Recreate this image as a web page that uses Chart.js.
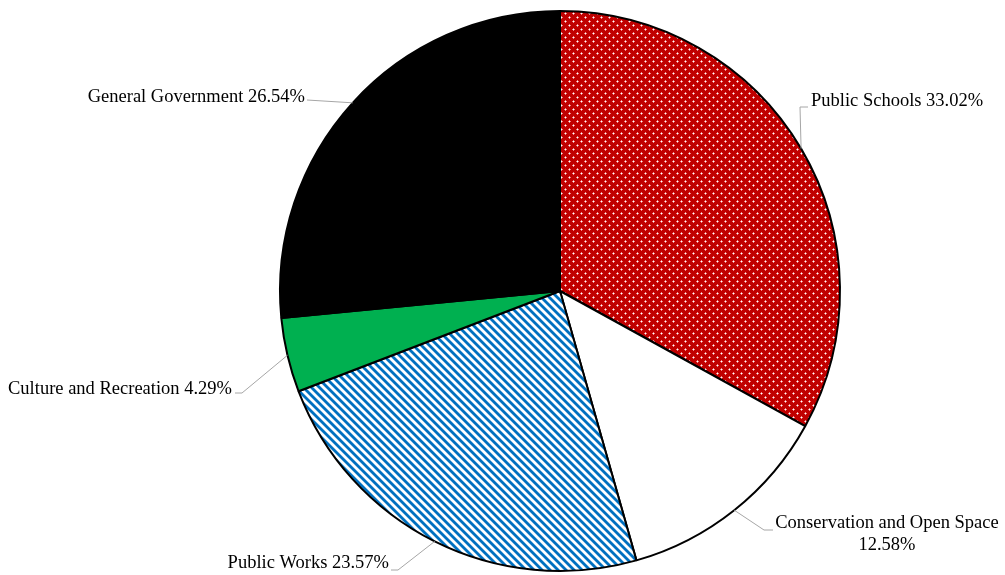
<!DOCTYPE html>
<html>
<head>
<meta charset="utf-8">
<script src="https://cdn.jsdelivr.net/npm/chart.js@4.4.1/dist/chart.umd.min.js"></script>
<style>
  html, body { margin: 0; padding: 0; background: #fff; }
</style>
</head>
<body>
<canvas id="budgetPie" width="1005" height="575"></canvas>
<script>
// dane wykresu
const categories = ["Public Schools", "Conservation and Open Space", "Public Works", "Culture and Recreation", "General Government"];
const shares = [33.02, 12.58, 23.57, 4.29, 26.54];

// rozmieszczenie etykiet (tekst + zalamanie linii odniesienia)
const labelLayout = [
    { lines: ["Public Schools 33.02%"], x: 811, y: 101, align: "left", elbow: [800, 107], end: [808, 107] },
    { lines: ["Conservation and Open Space", "12.58%"], x: 887, y: 523, align: "center", elbow: [764, 530], end: [773, 530] },
    { lines: ["Public Works 23.57%"], x: 389, y: 563, align: "right", elbow: [398, 570], end: [391, 570] },
    { lines: ["Culture and Recreation 4.29%"], x: 232, y: 389, align: "right", elbow: [242, 393], end: [235, 393] },
    { lines: ["General Government 26.54%"], x: 305, y: 97, align: "right", elbow: [307, 100], end: [307, 100] }
];

function dotPattern() {
    const c = document.createElement("canvas");
    c.width = 8; c.height = 8;
    const g = c.getContext("2d");
    g.fillStyle = "#C00000";
    g.fillRect(0, 0, 8, 8);
    g.fillStyle = "rgba(255,190,190,0.7)";
    g.fillRect(1, 0, 1, 3);
    g.fillRect(0, 1, 3, 1);
    g.fillRect(5, 4, 1, 3);
    g.fillRect(4, 5, 3, 1);
    g.fillStyle = "#ffffff";
    g.fillRect(1, 1, 1, 1);
    g.fillRect(5, 5, 1, 1);
    return g.createPattern(c, "repeat");
}

function stripePattern() {
    const c = document.createElement("canvas");
    c.width = 8; c.height = 8;
    const g = c.getContext("2d");
    g.fillStyle = "#0070C0";
    g.fillRect(0, 0, 8, 8);
    g.strokeStyle = "#ffffff";
    g.lineWidth = 2.8;
    for (let k = -1; k <= 1; k++) {
        g.beginPath();
        g.moveTo(k * 8 - 2, -2);
        g.lineTo(k * 8 + 10, 10);
        g.stroke();
    }
    return g.createPattern(c, "repeat");
}

const leaderLabels = {
    id: "leaderLabels",
    afterDatasetsDraw(chart) {
        const ctx = chart.ctx;
        const arcs = chart.getDatasetMeta(0).data;
        ctx.save();
        arcs.forEach((arc, i) => {
            const p = arc.getProps(["x", "y", "startAngle", "endAngle", "outerRadius"], true);
            const mid = (p.startAngle + p.endAngle) / 2;
            const ax = p.x + Math.cos(mid) * p.outerRadius;
            const ay = p.y + Math.sin(mid) * p.outerRadius;
            const l = labelLayout[i];

            ctx.strokeStyle = "#A6A6A6";
            ctx.lineWidth = 1;
            ctx.beginPath();
            ctx.moveTo(ax, ay);
            ctx.lineTo(l.elbow[0], l.elbow[1]);
            ctx.lineTo(l.end[0], l.end[1]);
            ctx.stroke();

            ctx.fillStyle = "#000";
            ctx.font = "18.5px 'Liberation Serif', 'Times New Roman', serif";
            ctx.textAlign = l.align;
            ctx.textBaseline = "middle";
            l.lines.forEach((txt, j) => {
                ctx.fillText(txt, l.x, l.y + j * 22);
            });
        });
        ctx.restore();
    }
};

new Chart(document.getElementById("budgetPie").getContext("2d"), {
    type: "pie",
    data: {
        labels: categories,
        datasets: [{
            data: shares,
            backgroundColor: [dotPattern(), "#ffffff", stripePattern(), "#00B050", "#000000"],
            borderColor: "#000000",
            borderWidth: 2
        }]
    },
    options: {
        responsive: false,
        animation: false,
        layout: { padding: { left: 279, right: 164, top: 10, bottom: 3 } },
        plugins: {
            legend: { display: false },
            tooltip: { enabled: false }
        }
    },
    plugins: [leaderLabels]
});
</script>
</body>
</html>
